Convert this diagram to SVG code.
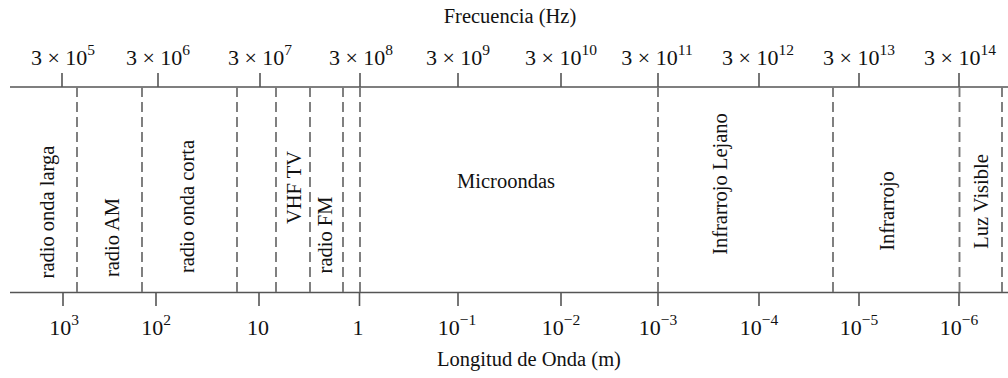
<svg xmlns="http://www.w3.org/2000/svg" width="1008" height="378" viewBox="0 0 1008 378">
<style>
  .axis { stroke: #555555; stroke-width: 1.6; fill: none; }
  .sep { stroke: #7a7a7a; stroke-width: 1.9; stroke-dasharray: 10 5; fill: none; }
  text { font-family: "Liberation Serif", "Times New Roman", serif; fill: #111111; }
  .title { font-size: 20.5px; text-anchor: middle; }
  .num { font-size: 22px; text-anchor: middle; }
  .sup { font-size: 15.5px; }
  .band { font-size: 20.5px; text-anchor: middle; }
</style>
<rect width="1008" height="378" fill="#ffffff"/>

<g id="axes">
  <line class="axis" x1="10" y1="87" x2="1008" y2="87"/>
  <line class="axis" x1="10" y1="292.5" x2="1008" y2="292.5"/>
  <path class="axis" d="M62 73V87 M158 73V87 M260 73V87 M360 73V87 M458 73V87 M561 73V87 M658 73V87 M759 73V87 M859 73V87 M959 73V87"/>
  <path class="axis" d="M63 292.5V306 M156 292.5V306 M259 292.5V306 M359.5 292.5V306 M458 292.5V306 M561 292.5V306 M658 292.5V306 M759 292.5V306 M859 292.5V306 M959 292.5V306"/>
</g>

<g id="connectors">
  <path class="sep" d="M77 87V292.5 M142 87V292.5 M237 87V292.5 M276 87V292.5 M310 87V292.5 M343 87V292.5 M360 87V292.5 M658 87V292.5 M833 87V292.5 M959.5 87V292.5 M1002 87V292.5"/>
</g>

<g id="freq-labels">
  <text class="title" x="510" y="23">Frecuencia (Hz)</text>
  <text class="num" x="63" y="65">3 × 10<tspan class="sup" dy="-10">5</tspan></text>
  <text class="num" x="158" y="65">3 × 10<tspan class="sup" dy="-10">6</tspan></text>
  <text class="num" x="260" y="65">3 × 10<tspan class="sup" dy="-10">7</tspan></text>
  <text class="num" x="361" y="65">3 × 10<tspan class="sup" dy="-10">8</tspan></text>
  <text class="num" x="458" y="65">3 × 10<tspan class="sup" dy="-10">9</tspan></text>
  <text class="num" x="561" y="65">3 × 10<tspan class="sup" dy="-10">10</tspan></text>
  <text class="num" x="657" y="65">3 × 10<tspan class="sup" dy="-10">11</tspan></text>
  <text class="num" x="758" y="65">3 × 10<tspan class="sup" dy="-10">12</tspan></text>
  <text class="num" x="859" y="65">3 × 10<tspan class="sup" dy="-10">13</tspan></text>
  <text class="num" x="960" y="65">3 × 10<tspan class="sup" dy="-10">14</tspan></text>
</g>

<g id="wave-labels">
  <text class="num" x="64" y="335">10<tspan class="sup" dy="-10">3</tspan></text>
  <text class="num" x="156" y="335">10<tspan class="sup" dy="-10">2</tspan></text>
  <text class="num" x="258" y="335">10</text>
  <text class="num" x="358" y="335">1</text>
  <text class="num" x="457" y="335">10<tspan class="sup" dy="-10">−1</tspan></text>
  <text class="num" x="561" y="335">10<tspan class="sup" dy="-10">−2</tspan></text>
  <text class="num" x="658" y="335">10<tspan class="sup" dy="-10">−3</tspan></text>
  <text class="num" x="759" y="335">10<tspan class="sup" dy="-10">−4</tspan></text>
  <text class="num" x="859" y="335">10<tspan class="sup" dy="-10">−5</tspan></text>
  <text class="num" x="959" y="335">10<tspan class="sup" dy="-10">−6</tspan></text>
  <text class="title" x="529" y="366">Longitud de Onda (m)</text>
</g>

<g id="band-radio-onda-larga"><text class="band" transform="translate(54,212) rotate(-90)">radio onda larga</text></g>
<g id="band-radio-am"><text class="band" transform="translate(119,237.5) rotate(-90)">radio AM</text></g>
<g id="band-radio-onda-corta"><text class="band" transform="translate(194,206.5) rotate(-90)">radio onda corta</text></g>
<g id="band-vhf-tv"><text class="band" transform="translate(301,187.5) rotate(-90)">VHF TV</text></g>
<g id="band-radio-fm"><text class="band" transform="translate(332,235) rotate(-90)">radio FM</text></g>
<g id="band-microondas"><text class="band" x="506" y="188">Microondas</text></g>
<g id="band-infrarrojo-lejano"><text class="band" transform="translate(727,184) rotate(-90)">Infrarrojo Lejano</text></g>
<g id="band-infrarrojo"><text class="band" transform="translate(894,211) rotate(-90)">Infrarrojo</text></g>
<g id="band-luz-visible"><text class="band" transform="translate(988,201.5) rotate(-90)">Luz Visible</text></g>
</svg>
